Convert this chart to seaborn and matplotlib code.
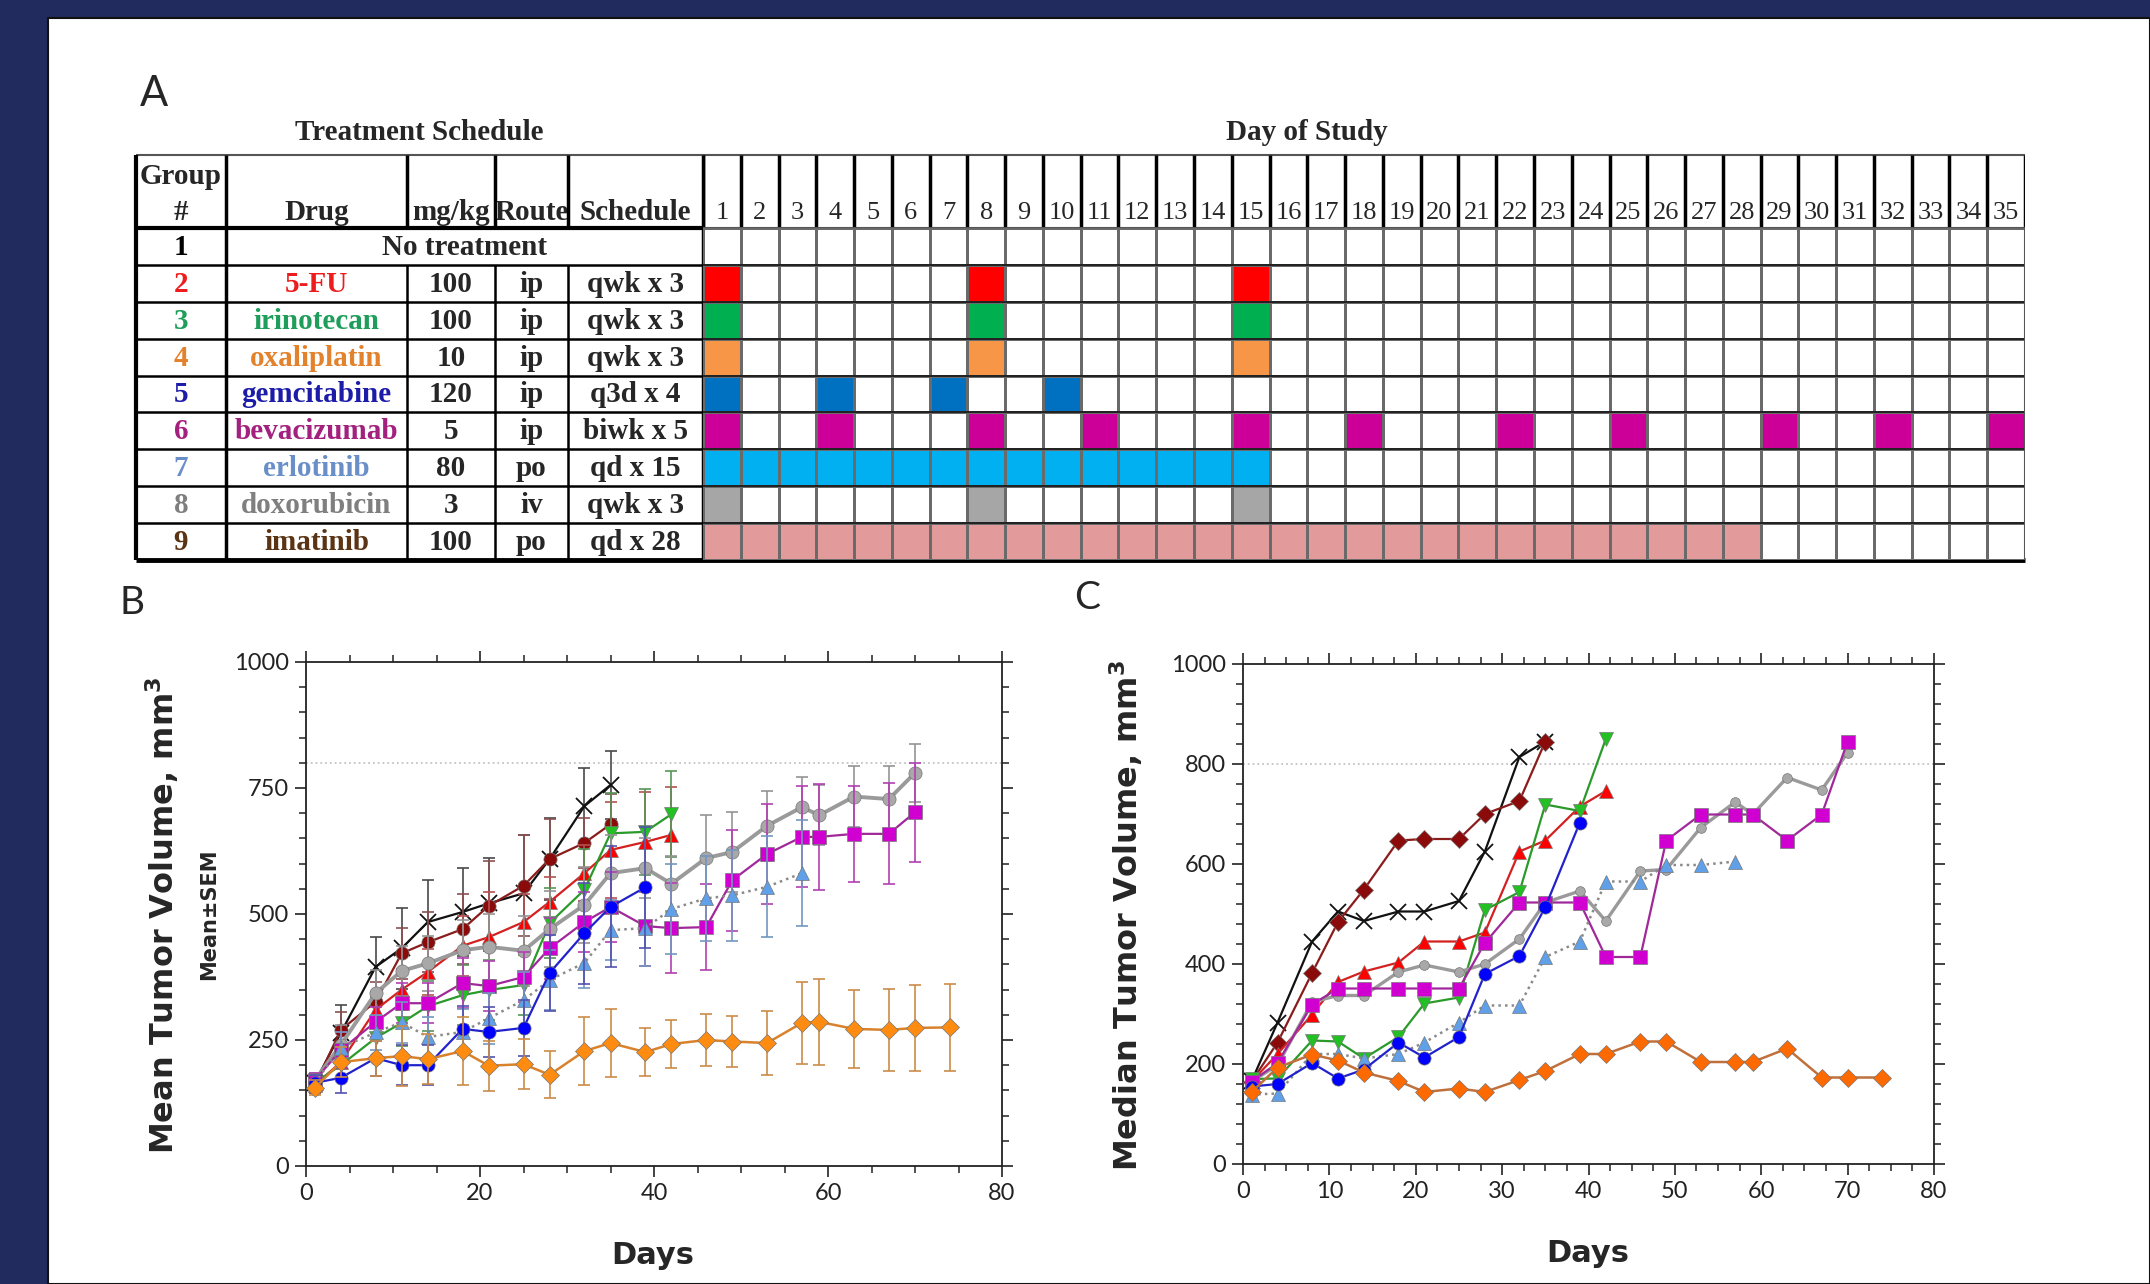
import matplotlib
matplotlib.use("Agg")
import matplotlib.pyplot as plt
from matplotlib.patches import Rectangle
from matplotlib.colors import ListedColormap, to_rgb
from matplotlib.ticker import MultipleLocator
import seaborn as sns
import numpy as np

sns.set_style("ticks")
plt.rcParams['font.family'] = ['DejaVu Sans']
plt.rcParams['mathtext.fontset'] = 'dejavusans'

# --- table data (panel A) ---
group_ids = ['1', '2', '3', '4', '5', '6', '7', '8', '9']
drugs = ['No treatment', '5-FU', 'irinotecan', 'oxaliplatin', 'gemcitabine',
         'bevacizumab', 'erlotinib', 'doxorubicin', 'imatinib']
doses = ['', '100', '100', '10', '120', '5', '80', '3', '100']
routes = ['', 'ip', 'ip', 'ip', 'ip', 'ip', 'po', 'iv', 'po']
schedules = ['', 'qwk x 3', 'qwk x 3', 'qwk x 3', 'q3d x 4', 'biwk x 5',
             'qd x 15', 'qwk x 3', 'qd x 28']
text_colors = ['black', '#ee1c1c', '#1e9e5a', '#e3822d', '#1c1ca8',
               '#a3207f', '#6a8fc8', '#7f7f7f', '#5a3414']
cell_colors = ['#ff0000', '#00b050', '#f79646', '#0070c0', '#cc0099',
               '#00b0f0', '#a6a6a6', '#e39a9b']
study_days = [1, 2, 3, 4, 5, 6, 7, 8, 9, 10, 11, 12, 13, 14, 15, 16, 17, 18,
              19, 20, 21, 22, 23, 24, 25, 26, 27, 28, 29, 30, 31, 32, 33, 34, 35]
dose_days = [
    [],
    [1, 8, 15],
    [1, 8, 15],
    [1, 8, 15],
    [1, 4, 7, 10],
    [1, 4, 8, 11, 15, 18, 22, 25, 29, 32, 35],
    [1, 2, 3, 4, 5, 6, 7, 8, 9, 10, 11, 12, 13, 14, 15],
    [1, 8, 15],
    [1, 2, 3, 4, 5, 6, 7, 8, 9, 10, 11, 12, 13, 14, 15, 16, 17, 18, 19, 20,
     21, 22, 23, 24, 25, 26, 27, 28],
]

# --- tumour growth data (panels B and C) ---
days = [1, 4, 8, 11, 14, 18, 21, 25, 28, 32, 35, 39, 42, 46, 49, 53, 57, 59, 63, 67, 70, 74]

ctrl_mean = [165, 264, 395, 432, 484, 504, 521, 541, 609, 714, 756]
ctrl_sem = [15, 55, 60, 80, 83, 87, 90, 115, 81, 76, 67]
ctrl_med = [166, 283, 445, 505, 486, 505, 505, 526, 625, 814, 845]

fu_mean = [160, 206, 310, 350, 385, 437, 454, 484, 524, 581, 627, 643, 657]
fu_sem = [15, 30, 35, 40, 45, 60, 90, 55, 50, 55, 95, 100, 95]
fu_med = [165, 220, 299, 364, 385, 403, 445, 445, 463, 625, 647, 715, 746]

iri_mean = [165, 200, 254, 284, 317, 339, 349, 359, 482, 548, 660, 663, 698]
iri_sem = [15, 30, 40, 45, 50, 60, 60, 60, 70, 80, 80, 85, 85]
iri_med = [170, 171, 247, 245, 211, 254, 321, 333, 508, 544, 719, 706, 850]

oxa_mean = [155, 206, 214, 218, 212, 228, 199, 202, 181, 228, 244, 226, 242, 250,
            247, 244, 284, 286, 272, 270, 274, 275]
oxa_sem = [15, 30, 35, 60, 50, 68, 50, 50, 47, 68, 67, 48, 48, 52, 50, 63, 81,
           85, 78, 82, 85, 86]
oxa_med = [144, 193, 219, 207, 183, 166, 144, 151, 144, 168, 186, 220, 220, 245,
           245, 204, 204, 204, 231, 173, 173, 173]

gem_mean = [165, 175, 214, 200, 200, 272, 266, 274, 383, 462, 514, 553]
gem_sem = [15, 30, 35, 40, 40, 45, 50, 55, 75, 100, 120, 120]
gem_med = [155, 160, 202, 171, 189, 243, 213, 254, 380, 416, 514, 683]

bev_mean = [170, 230, 286, 323, 323, 363, 357, 375, 432, 484, 514, 476, 472, 474,
            567, 619, 653, 653, 659, 659, 702]
bev_sem = [15, 35, 30, 40, 40, 50, 50, 50, 60, 60, 70, 80, 90, 85, 100, 100, 100,
           105, 95, 100, 98]
bev_med = [165, 202, 319, 351, 351, 351, 351, 351, 442, 523, 523, 523, 414, 414,
           647, 699, 699, 699, 647, 699, 845]

erl_mean = [165, 235, 265, 285, 256, 266, 293, 329, 369, 403, 468, 472, 510, 531,
            537, 554, 581]
erl_sem = [15, 30, 35, 40, 40, 45, 50, 55, 60, 50, 60, 75, 90, 85, 90, 100, 105]
erl_med = [139, 141, 220, 220, 211, 220, 243, 283, 317, 317, 414, 445, 565, 565,
           598, 598, 605]

dox_mean = [170, 240, 343, 387, 402, 428, 435, 427, 470, 518, 581, 591, 560, 611,
            623, 675, 712, 696, 733, 728, 780]
dox_sem = [15, 40, 45, 50, 55, 60, 65, 70, 75, 75, 75, 60, 55, 85, 80, 70, 60, 60,
           60, 65, 58]
dox_med = [165, 198, 324, 337, 337, 384, 398, 384, 400, 450, 523, 546, 486, 586,
           589, 673, 724, 699, 773, 748, 823]

ima_mean = [160, 270, 326, 422, 444, 470, 516, 556, 609, 641, 678]
ima_sem = [15, 35, 40, 50, 60, 70, 90, 100, 80, 50, 60]
ima_med = [165, 243, 382, 484, 549, 647, 650, 650, 700, 726, 845]

# name, mean, sem, median, line colour, marker colour, marker B, marker C, linestyle, lw
series = [
    ('No treatment', ctrl_mean, ctrl_sem, ctrl_med, '#111111', '#111111', 'x', 'x', '-', 1.6),
    ('imatinib', ima_mean, ima_sem, ima_med, '#8a1c1c', '#8b0a0a', 'o', 'D', '-', 1.6),
    ('5-FU', fu_mean, fu_sem, fu_med, '#d42020', '#ff0000', '^', '^', '-', 1.6),
    ('irinotecan', iri_mean, iri_sem, iri_med, '#2a9a2a', '#22c022', 'v', 'v', '-', 1.6),
    ('doxorubicin', dox_mean, dox_sem, dox_med, '#9a9a9a', '#a8a8a8', 'o', 'o', '-', 2.8),
    ('bevacizumab', bev_mean, bev_sem, bev_med, '#a0289a', '#d000d0', 's', 's', '-', 1.6),
    ('erlotinib', erl_mean, erl_sem, erl_med, '#8a8a8a', '#5fa0e8', '^', '^', ':', 1.8),
    ('gemcitabine', gem_mean, gem_sem, gem_med, '#2222cc', '#0000ff', 'o', 'o', '-', 1.6),
    ('oxaliplatin', oxa_mean, oxa_sem, oxa_med, '#d9822b', '#ff8c10', 'D', 'D', '-', 1.8),
]

W, H = 2150, 1284
fig = plt.figure(figsize=(21.5, 12.84), dpi=100, facecolor='#212b5e')

bg = fig.add_axes([0, 0, 1, 1])
bg.set_xlim(0, W)
bg.set_ylim(H, 0)
bg.axis('off')
bg.add_patch(Rectangle((48, 18), W - 48, H - 18, facecolor='white',
                       edgecolor='#111111', lw=1.5))

serif = 'Liberation Serif'
tfs = 21

# --- panel A: left part of the table ---
col_x = [136, 226, 407, 495, 568, 703]
top, hdr_bot, bot = 155, 228, 560
row_h = (bot - hdr_bot) / 9
row_y = [hdr_bot + row_h * i for i in range(10)]

bg.text(154, 94, 'A', fontsize=30, family='Lato', ha='center', va='center')
bg.text(419, 133, 'Treatment Schedule', fontsize=tfs, family=serif,
        weight='bold', ha='center', va='center')
bg.text(1307, 133, 'Day of Study', fontsize=tfs, family=serif,
        weight='bold', ha='center', va='center')

# header labels
hdr_cx = [(col_x[i] + col_x[i + 1]) / 2 for i in range(5)]
bg.text(hdr_cx[0], 177, 'Group', fontsize=tfs, family=serif, weight='bold',
        ha='center', va='center')
for cx, lab in zip(hdr_cx, ['#', 'Drug', 'mg/kg', 'Route', 'Schedule']):
    bg.text(cx, 213, lab, fontsize=tfs, family=serif, weight='bold',
            ha='center', va='center')

# rows
for i in range(9):
    cy = (row_y[i] + row_y[i + 1]) / 2 + 1
    bg.text(hdr_cx[0], cy, group_ids[i], fontsize=tfs, family=serif,
            weight='bold', color=text_colors[i], ha='center', va='center')
    if i == 0:
        bg.text((col_x[1] + col_x[5]) / 2, cy, drugs[i], fontsize=tfs,
                family=serif, weight='bold', ha='center', va='center')
        continue
    bg.text(hdr_cx[1], cy, drugs[i], fontsize=tfs, family=serif, weight='bold',
            color=text_colors[i], ha='center', va='center')
    bg.text(hdr_cx[2], cy, doses[i], fontsize=tfs, family=serif, weight='bold',
            ha='center', va='center')
    bg.text(hdr_cx[3], cy, routes[i], fontsize=tfs, family=serif, weight='bold',
            ha='center', va='center')
    bg.text(hdr_cx[4], cy, schedules[i], fontsize=tfs, family=serif,
            weight='bold', ha='center', va='center')

# table lines
bg.hlines(top, col_x[0], 2025, color='#555555', lw=1.5, zorder=5)
bg.hlines(hdr_bot, col_x[0], col_x[5], color='black', lw=3, zorder=5)
for y in row_y[1:-1]:
    bg.hlines(y, col_x[0], col_x[5], color='black', lw=1.8, zorder=5)
bg.hlines(bot, col_x[0], 2025, color='black', lw=3.5, zorder=6)
bg.vlines(col_x[0], top, bot, color='black', lw=3, zorder=5)
bg.vlines(col_x[1], top, bot, color='black', lw=2.5, zorder=5)
for x in col_x[2:5]:
    bg.vlines(x, top, hdr_bot, color='black', lw=2.5, zorder=5)
    bg.vlines(x, row_y[1], bot, color='black', lw=1.8, zorder=5)
bg.vlines(col_x[5], top, bot, color='black', lw=2.5, zorder=5)

# day header
hdr = fig.add_axes([703 / W, 1 - hdr_bot / H, (2025 - 703) / W, (hdr_bot - top) / H])
hdr.set_xlim(0, len(study_days))
hdr.set_ylim(0, 1)
hdr.axis('off')
hdr.vlines(np.arange(len(study_days) + 1), 0, 1, color='black', lw=2.5)
hdr.hlines(0, 0, len(study_days), color='#555555', lw=1.5)
for i, d in enumerate(study_days):
    hdr.text(i + 0.5, 0.2, str(d), fontsize=19, family=serif,
             ha='center', va='center')

# dosing grid as a heatmap
grid = np.zeros((9, len(study_days)))
for g, dd in enumerate(dose_days):
    for d in dd:
        grid[g, study_days.index(d)] = g
cmap = ListedColormap(['white'] + cell_colors)
gax = fig.add_axes([703 / W, 1 - bot / H, (2025 - 703) / W, (bot - hdr_bot) / H])
sns.heatmap(grid, ax=gax, cmap=cmap, vmin=-0.5, vmax=8.5, cbar=False,
            linewidths=1.0, linecolor='#6a6a6a', xticklabels=False,
            yticklabels=False)
gax.hlines(np.arange(1, 9), 0, len(study_days), color='#222222', lw=1.4)
gax.vlines(len(study_days), 0, 9, color='#555555', lw=1.5)


# --- panels B and C ---
def style_axes(ax, xmaj, xmin, ymaj, ymin):
    ax.set_xlim(0, 80)
    ax.set_ylim(0, 1000)
    ax.xaxis.set_major_locator(MultipleLocator(xmaj))
    ax.xaxis.set_minor_locator(MultipleLocator(xmin))
    ax.yaxis.set_major_locator(MultipleLocator(ymaj))
    ax.yaxis.set_minor_locator(MultipleLocator(ymin))
    ax.tick_params(which='both', direction='out', top=True, right=True,
                   labeltop=False, labelright=False, color='#222222')
    ax.tick_params(which='major', length=8, width=1.2, labelsize=17,
                   labelfontfamily='Lato', labelcolor='#222222', pad=4)
    ax.tick_params(which='minor', length=5, width=1.1)
    for s in ax.spines.values():
        s.set_visible(True)
        s.set_linewidth(1.3)
        s.set_color('#222222')
    ax.axhline(800, color='#c4c4c4', ls=':', lw=1.3, zorder=0)
    ax.set_xlabel('')
    ax.set_ylabel('')


def grayish(c):
    # error bars in the original are a muted mix of the series colour and grey
    r, g, b = to_rgb(c)
    return (0.55 * r + 0.45 * 0.55, 0.55 * g + 0.45 * 0.55, 0.55 * b + 0.45 * 0.55)


axB = fig.add_axes([306 / W, 1 - 1166 / H, 696 / W, 504 / H])
for k, (name, mu, sem, med, lc, mc, mb, mcc, ls, lw) in enumerate(series):
    d = days[:len(mu)]
    ec = grayish(mc if name in ('erlotinib', 'bevacizumab', 'oxaliplatin') else lc)
    axB.errorbar(d, mu, yerr=sem, fmt='none', ecolor=ec, alpha=0.85,
                 capsize=4.5, elinewidth=1.4, capthick=1.4, zorder=2 + k)
    sns.lineplot(x=d, y=mu, ax=axB, color=lc, linestyle=ls, linewidth=lw,
                 marker=mb, markersize=9.5 if mb != 'x' else 11,
                 markerfacecolor=mc, markeredgecolor=mc if mb == 'x' else '#777777',
                 markeredgewidth=1.3 if mb == 'x' else 0.5, zorder=3 + k)
style_axes(axB, 20, 5, 250, 50)

axC = fig.add_axes([1243 / W, 1 - 1164 / H, 691 / W, 500 / H])
for k, (name, mu, sem, med, lc, mc, mb, mcc, ls, lw) in enumerate(series):
    d = days[:len(med)]
    ms = 9.5
    if name == 'doxorubicin':
        ms = 7
    if mcc == 'x':
        ms = 11
    if name == 'oxaliplatin':
        lc2, mc2 = '#c0703a', '#ff6a00'
    else:
        lc2, mc2 = lc, mc
    sns.lineplot(x=d, y=med, ax=axC, color=lc2, linestyle=ls,
                 linewidth=lw if name != 'doxorubicin' else 2.4,
                 marker=mcc, markersize=ms, markerfacecolor=mc2,
                 markeredgecolor=mc2 if mcc == 'x' else '#777777',
                 markeredgewidth=1.3 if mcc == 'x' else 0.5, zorder=3 + k)
style_axes(axC, 10, 2.5, 200, 40)

# axis titles and panel letters
fig.text(132 / W, 1 - 603 / H, 'B', fontsize=28, family='Lato', ha='center', va='center')
fig.text(1087 / W, 1 - 598 / H, 'C', fontsize=28, family='Lato', ha='center', va='center')
fig.text(162 / W, 1 - 915 / H, r'Mean Tumor Volume, mm$^{\mathbf{3}}$', fontsize=23,
         weight='bold', rotation=90, ha='center', va='center')
fig.text(209 / W, 1 - 914 / H, 'Mean±SEM', fontsize=15, weight='bold',
         rotation=90, ha='center', va='center')
fig.text(1126 / W, 1 - 915 / H, r'Median Tumor Volume, mm$^{\mathbf{3}}$', fontsize=23,
         weight='bold', rotation=90, ha='center', va='center')
fig.text(653 / W, 1 - 1256 / H, 'Days', fontsize=22, weight='bold',
         ha='center', va='center')
fig.text(1588 / W, 1 - 1253 / H, 'Days', fontsize=22, weight='bold',
         ha='center', va='center')

fig.savefig('out.png', dpi=100, facecolor=fig.get_facecolor())
